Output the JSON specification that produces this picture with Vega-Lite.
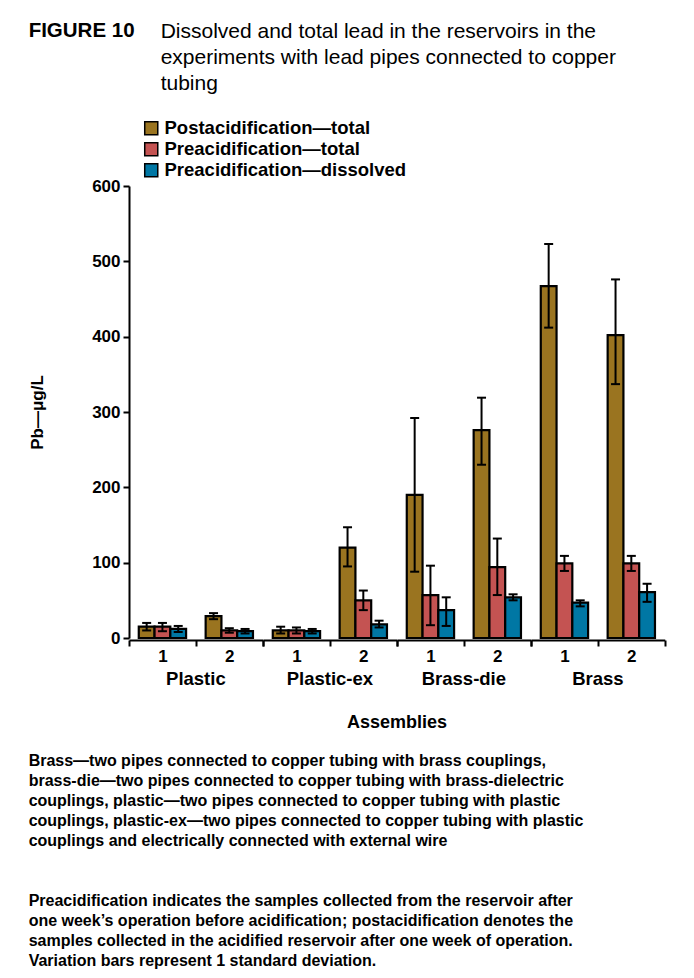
{
  "$schema": "https://vega.github.io/schema/vega-lite/v6.json",
  "padding": {"left": 28, "top": 20, "right": 5, "bottom": 5},
  "background": "white",
  "title": {
    "text": [
      "Preacidification indicates the samples collected from the reservoir after",
      "one week’s operation before acidification; postacidification denotes the",
      "samples collected in the acidified reservoir after one week of operation.",
      "Variation bars represent 1 standard deviation."
    ],
    "orient": "bottom",
    "anchor": "start",
    "font": "Liberation Sans",
    "fontSize": 16,
    "fontWeight": "bold",
    "lineHeight": 20,
    "offset": 44,
    "color": "black"
  },
  "vconcat": [
    {
      "title": {
        "text": [
          "Brass—two pipes connected to copper tubing with brass couplings,",
          "brass-die—two pipes connected to copper tubing with brass-dielectric",
          "couplings, plastic—two pipes connected to copper tubing with plastic",
          "couplings, plastic-ex—two pipes connected to copper tubing with plastic",
          "couplings and electrically connected with external wire"
        ],
        "orient": "bottom",
        "anchor": "start",
        "font": "Liberation Sans",
        "fontSize": 16,
        "fontWeight": "bold",
        "lineHeight": 20,
        "offset": 21,
        "color": "black"
      },
      "vconcat": [
        {
          "title": {
            "text": "FIGURE 10",
            "anchor": "start",
            "font": "Liberation Sans",
            "fontSize": 20.5,
            "fontWeight": "bold",
            "offset": -20,
            "color": "black"
          },
          "vconcat": [
            {
              "title": {
                "text": [
                  "Dissolved and total lead in the reservoirs in the",
                  "experiments with lead pipes connected to copper",
                  "tubing"
                ],
                "anchor": "start",
                "font": "Liberation Sans",
                "fontSize": 21,
                "fontWeight": "normal",
                "lineHeight": 26,
                "dx": 132,
                "offset": 83,
                "color": "black"
              },
              "data": {
                "values": [
                  {"group": "Plastic", "n": "1", "series": "Postacidification—total", "value": 15, "lo": 10, "hi": 20},
                  {"group": "Plastic", "n": "1", "series": "Preacidification—total", "value": 15, "lo": 9, "hi": 20},
                  {"group": "Plastic", "n": "1", "series": "Preacidification—dissolved", "value": 12, "lo": 8, "hi": 16},
                  {"group": "Plastic", "n": "2", "series": "Postacidification—total", "value": 29, "lo": 25, "hi": 33},
                  {"group": "Plastic", "n": "2", "series": "Preacidification—total", "value": 10, "lo": 7, "hi": 13},
                  {"group": "Plastic", "n": "2", "series": "Preacidification—dissolved", "value": 9, "lo": 6, "hi": 12},
                  {"group": "Plastic-ex", "n": "1", "series": "Postacidification—total", "value": 10, "lo": 6, "hi": 15},
                  {"group": "Plastic-ex", "n": "1", "series": "Preacidification—total", "value": 10, "lo": 6, "hi": 14},
                  {"group": "Plastic-ex", "n": "1", "series": "Preacidification—dissolved", "value": 9, "lo": 6, "hi": 12},
                  {"group": "Plastic-ex", "n": "2", "series": "Postacidification—total", "value": 120, "lo": 95, "hi": 147},
                  {"group": "Plastic-ex", "n": "2", "series": "Preacidification—total", "value": 50, "lo": 37, "hi": 63},
                  {"group": "Plastic-ex", "n": "2", "series": "Preacidification—dissolved", "value": 18, "lo": 14, "hi": 23},
                  {"group": "Brass-die", "n": "1", "series": "Postacidification—total", "value": 190, "lo": 88, "hi": 292},
                  {"group": "Brass-die", "n": "1", "series": "Preacidification—total", "value": 57, "lo": 17, "hi": 96},
                  {"group": "Brass-die", "n": "1", "series": "Preacidification—dissolved", "value": 37, "lo": 16, "hi": 54},
                  {"group": "Brass-die", "n": "2", "series": "Postacidification—total", "value": 276, "lo": 230, "hi": 319},
                  {"group": "Brass-die", "n": "2", "series": "Preacidification—total", "value": 94, "lo": 57, "hi": 132},
                  {"group": "Brass-die", "n": "2", "series": "Preacidification—dissolved", "value": 54, "lo": 50, "hi": 58},
                  {"group": "Brass", "n": "1", "series": "Postacidification—total", "value": 467, "lo": 412, "hi": 523},
                  {"group": "Brass", "n": "1", "series": "Preacidification—total", "value": 99, "lo": 89, "hi": 109},
                  {"group": "Brass", "n": "1", "series": "Preacidification—dissolved", "value": 47, "lo": 42, "hi": 50},
                  {"group": "Brass", "n": "2", "series": "Postacidification—total", "value": 402, "lo": 337, "hi": 476},
                  {"group": "Brass", "n": "2", "series": "Preacidification—total", "value": 99, "lo": 89, "hi": 109},
                  {"group": "Brass", "n": "2", "series": "Preacidification—dissolved", "value": 61, "lo": 48, "hi": 72}
                ]
              },
              "facet": {
                "column": {
                  "field": "group",
                  "type": "nominal",
                  "sort": ["Plastic", "Plastic-ex", "Brass-die", "Brass"],
                  "title": "Assemblies",
                  "header": {
                    "labelOrient": "bottom",
                    "titleOrient": "bottom",
                    "labelFont": "Liberation Sans",
                    "labelFontSize": 18.5,
                    "labelFontWeight": "bold",
                    "labelColor": "black",
                    "labelPadding": 6,
                    "titleFont": "Liberation Sans",
                    "titleFontSize": 18,
                    "titleFontWeight": "bold",
                    "titleColor": "black",
                    "titlePadding": 15
                  }
                }
              },
              "spacing": 0,
              "spec": {
                "width": 133.75,
                "height": 452,
                "encoding": {
                  "x": {
                    "field": "n",
                    "type": "nominal",
                    "scale": {"paddingInner": 0, "paddingOuter": 0},
                    "axis": {
                      "title": null,
                      "labelAngle": 0,
                      "tickBand": "extent",
                      "labelFont": "Liberation Sans",
                      "labelFontSize": 17,
                      "labelFontWeight": "bold",
                      "labelColor": "black",
                      "labelPadding": 2,
                      "tickSize": 6,
                      "tickWidth": 2,
                      "tickColor": "black",
                      "domainColor": "black",
                      "domainWidth": 2
                    }
                  },
                  "xOffset": {
                    "field": "series",
                    "type": "nominal",
                    "sort": ["Postacidification—total", "Preacidification—total", "Preacidification—dissolved"],
                    "scale": {"paddingInner": 0, "paddingOuter": 0.62}
                  }
                },
                "layer": [
                  {
                    "mark": {"type": "bar", "stroke": "black", "strokeWidth": 2.2},
                    "encoding": {
                      "y": {
                        "field": "value",
                        "type": "quantitative",
                        "scale": {"domain": [0, 600]},
                        "axis": {
                          "title": "Pb—μg/L",
                          "values": [0, 100, 200, 300, 400, 500, 600],
                          "grid": false,
                          "labelFont": "Liberation Sans",
                          "labelFontSize": 17,
                          "labelFontWeight": "bold",
                          "labelColor": "black",
                          "labelPadding": 3,
                          "tickSize": 6,
                          "tickWidth": 2,
                          "tickColor": "black",
                          "domainColor": "black",
                          "domainWidth": 2,
                          "titleFont": "Liberation Sans",
                          "titleFontSize": 17,
                          "titleFontWeight": "bold",
                          "titleColor": "black",
                          "titlePadding": 45
                        }
                      },
                      "color": {
                        "field": "series",
                        "type": "nominal",
                        "sort": ["Postacidification—total", "Preacidification—total", "Preacidification—dissolved"],
                        "scale": {
                          "domain": ["Postacidification—total", "Preacidification—total", "Preacidification—dissolved"],
                          "range": ["#9A7420", "#C45352", "#0077A4"]
                        },
                        "legend": {
                          "title": null,
                          "orient": "none",
                          "legendX": 13,
                          "legendY": -67,
                          "symbolType": "square",
                          "symbolSize": 170,
                          "symbolStrokeColor": "black",
                          "symbolStrokeWidth": 1.5,
                          "symbolOpacity": 1,
                          "labelFont": "Liberation Sans",
                          "labelFontSize": 18.5,
                          "labelFontWeight": "bold",
                          "labelColor": "black",
                          "labelOffset": 4,
                          "rowPadding": 1,
                          "labelLimit": 400
                        }
                      }
                    }
                  },
                  {
                    "mark": {"type": "rule", "color": "black", "strokeWidth": 2},
                    "encoding": {
                      "y": {"field": "lo", "type": "quantitative"},
                      "y2": {"field": "hi"}
                    }
                  },
                  {
                    "mark": {"type": "tick", "color": "black", "thickness": 2, "size": 9},
                    "encoding": {"y": {"field": "lo", "type": "quantitative"}}
                  },
                  {
                    "mark": {"type": "tick", "color": "black", "thickness": 2, "size": 9},
                    "encoding": {"y": {"field": "hi", "type": "quantitative"}}
                  }
                ]
              }
            }
          ]
        }
      ]
    }
  ],
  "config": {
    "view": {"stroke": null},
    "font": "Liberation Sans",
    "tick": {"opacity": 1},
    "bar": {"opacity": 1}
  }
}
